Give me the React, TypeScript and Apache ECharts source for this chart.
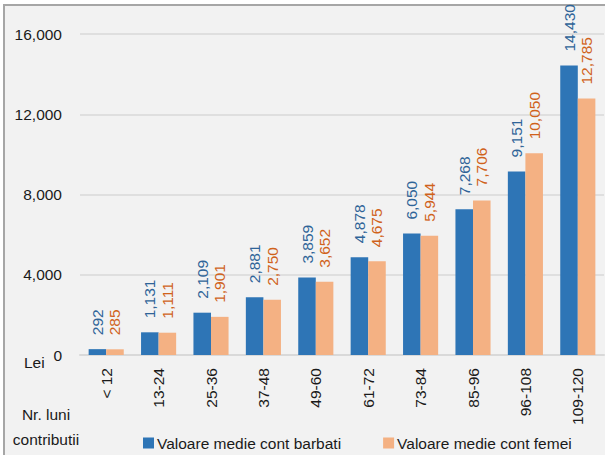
import React, { useEffect, useRef } from "react";
import * as echarts from "echarts";

const categories = ["< 12", "13-24", "25-36", "37-48", "49-60", "61-72", "73-84", "85-96", "96-108", "109-120"];
const barbati = [292, 1131, 2109, 2881, 3859, 4878, 6050, 7268, 9151, 14430];
const femei = [285, 1111, 1901, 2750, 3652, 4675, 5944, 7706, 10050, 12785];
const seriesNames = ["Valoare medie cont barbati", "Valoare medie cont femei"];
const yUnit = "Lei";
const xTitleLines = ["Nr. luni", "contributii"];

const FONT = "'Liberation Sans', Arial, sans-serif";
const FS = 15.5;
const fmt = (v: number) => v.toLocaleString("en-US");

export default function App() {
  const ref = useRef<HTMLDivElement>(null);
  useEffect(() => {
    if (!ref.current) return;
    const chart = echarts.init(ref.current, undefined, { renderer: "svg" });
    const labelBase = {
      show: true,
      position: "top" as const,
      rotate: 90,
      align: "left" as const,
      verticalAlign: "middle" as const,
      distance: 14,
      fontSize: FS,
      fontFamily: FONT,
      formatter: (p: any) => fmt(p.value),
    };
    chart.setOption({
      animation: false,
      backgroundColor: "#ffffff",
      textStyle: { fontFamily: FONT },
      graphic: [
        {
          type: "rect",
          z: -100,
          silent: true,
          shape: { x: 4, y: 5, width: 620, height: 470 },
          style: { fill: "#F2F2F2", stroke: "#A6A6A6", lineWidth: 2 },
        },
        {
          type: "text",
          left: 24,
          top: 354,
          style: { text: yUnit, fontSize: FS, fontFamily: FONT, fill: "#1a1a1a" },
        },
        {
          type: "text",
          x: 46,
          y: 402,
          style: {
            text: xTitleLines.join("\n"),
            fontSize: FS,
            lineHeight: 25,
            fontFamily: FONT,
            fill: "#1a1a1a",
            align: "center",
          },
        },
      ],
      legend: {
        left: 138,
        right: 0,
        top: 430,
        itemWidth: 11,
        itemHeight: 11,
        itemGap: 42,
        icon: "rect",
        textStyle: { fontSize: FS, fontFamily: FONT, color: "#1a1a1a", padding: [0, 0, 0, -2] },
        data: seriesNames,
      },
      grid: { left: 80, right: 1, top: 34, bottom: 100, containLabel: false },
      xAxis: {
        type: "category",
        data: categories,
        axisLine: { show: true, lineStyle: { color: "#D9D9D9", width: 2 } },
        axisTick: { show: false },
        axisLabel: {
          rotate: 90,
          margin: 13,
          fontSize: FS,
          fontFamily: FONT,
          color: "#1a1a1a",
          interval: 0,
        },
      },
      yAxis: {
        type: "value",
        min: 0,
        max: 16000,
        interval: 4000,
        axisLine: { show: false },
        axisTick: { show: false },
        splitLine: { lineStyle: { color: "#D9D9D9", width: 1.5 } },
        axisLabel: {
          margin: 18,
          fontSize: FS,
          fontFamily: FONT,
          color: "#1a1a1a",
          formatter: (v: number) => fmt(v),
        },
      },
      series: [
        {
          name: seriesNames[0],
          type: "bar",
          data: barbati,
          barGap: "0%",
          barCategoryGap: "33%",
          itemStyle: { color: "#2E75B6" },
          label: { ...labelBase, color: "#2F6498" },
        },
        {
          name: seriesNames[1],
          type: "bar",
          data: femei,
          barGap: "0%",
          barCategoryGap: "33%",
          itemStyle: { color: "#F4B183" },
          label: { ...labelBase, color: "#D0621B" },
        },
      ],
    });
    return () => chart.dispose();
  }, []);
  return <div ref={ref} style={{ position: "absolute", left: 0, top: 0, width: 605, height: 455 }} />;
}
